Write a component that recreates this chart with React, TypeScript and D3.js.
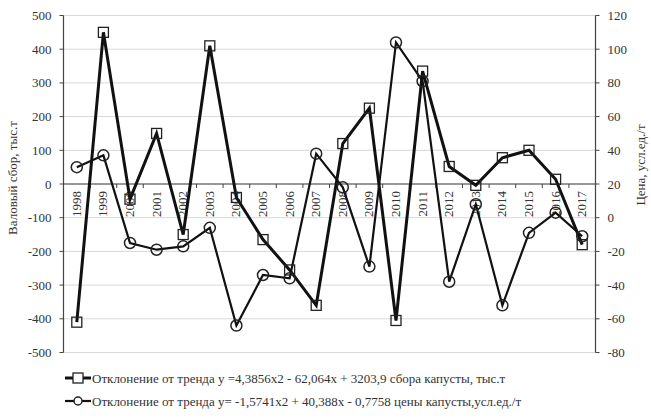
import React from "react";
import * as d3 from "d3";

const years = ["1998", "1999", "2000", "2001", "2002", "2003", "2004", "2005", "2006", "2007",
  "2008", "2009", "2010", "2011", "2012", "2013", "2014", "2015", "2016", "2017"];
// Deviation from trend of cabbage harvest, thousand t (left axis)
const harvestDev = [-410, 450, -45, 150, -150, 410, -40, -165, -255, -360,
  120, 225, -405, 335, 52, -4, 78, 100, 14, -180];
// Deviation from trend of cabbage price, conventional units/t (right axis)
const priceDev = [30, 37, -15, -19, -17, -6, -64, -34, -36, 38,
  18, -29, 104, 81, -38, 8, -52, -9, 3, -11];
const leftTicks = [500, 400, 300, 200, 100, 0, -100, -200, -300, -400, -500];
const rightTicks = [120, 100, 80, 60, 40, 20, 0, -20, -40, -60, -80];
const legendLabels = [
  "Отклонение от тренда у =4,3856х2 - 62,064х + 3203,9 сбора капусты, тыс.т",
  "Отклонение от тренда у= -1,5741х2 + 40,388х - 0,7758  цены капусты,усл.ед./т",
];

const W = 651, H = 419;
const L = 63.5, R = 595.5, T = 15.5, B = 352.5;
const FONT = "Liberation Serif";

export default function App() {
  const x = d3.scaleBand<string>().domain(years).range([L, R]);
  const yL = d3.scaleLinear().domain([-500, 500]).range([B, T]);
  const yR = d3.scaleLinear().domain([-80, 120]).range([B, T]);
  const cx = (d: string) => (x(d) as number) + x.bandwidth() / 2;

  const lineL = d3.line<number>().x((_, i) => cx(years[i])).y((v) => yL(v));
  const lineR = d3.line<number>().x((_, i) => cx(years[i])).y((v) => yR(v));
  const zeroY = yL(0);
  const sq = 10;
  const txt = { fontFamily: FONT, fill: "#333" };

  return (
    <svg width={W} height={H} style={{ position: "absolute", left: 0, top: 0, background: "#fff" }}>
      {/* gridlines */}
      {leftTicks.map((t) => (
        <line key={"g" + t} x1={L} x2={R} y1={yL(t)} y2={yL(t)} stroke="#d8d8d8" strokeWidth={1} />
      ))}
      {/* left axis */}
      <line x1={L} x2={L} y1={T} y2={B} stroke="#444" strokeWidth={1.2} />
      {leftTicks.map((t) => (
        <g key={"l" + t}>
          <line x1={L - 4} x2={L} y1={yL(t)} y2={yL(t)} stroke="#444" />
          <text x={L - 12} y={yL(t)} dy="0.35em" textAnchor="end" fontSize={13} style={txt}>{t}</text>
        </g>
      ))}
      {/* right axis */}
      <line x1={R} x2={R} y1={T} y2={B} stroke="#444" strokeWidth={1.2} />
      {rightTicks.map((t) => (
        <g key={"r" + t}>
          <line x1={R} x2={R + 4} y1={yR(t)} y2={yR(t)} stroke="#444" />
          <text x={R + 12} y={yR(t)} dy="0.35em" textAnchor="start" fontSize={13} style={txt}>{t}</text>
        </g>
      ))}
      {/* category axis at zero */}
      <line x1={L} x2={R} y1={zeroY} y2={zeroY} stroke="#444" strokeWidth={1.2} />
      {years.map((y, i) => (
        <line key={"xt" + y} x1={(x(y) as number) + (i === 0 ? x.bandwidth() : 0)}
          x2={(x(y) as number) + (i === 0 ? x.bandwidth() : 0)} y1={zeroY} y2={zeroY + 4} stroke="#444" />
      ))}
      {years.map((y) => (
        <text key={"xl" + y} transform={`translate(${cx(y) + 4},${zeroY + 7}) rotate(-90)`}
          textAnchor="end" fontSize={13} style={txt}>{y}</text>
      ))}
      {/* axis titles */}
      <text transform={`translate(17,178) rotate(-90)`} textAnchor="middle" fontSize={13} style={txt}>
        Валовый сбор, тыс.т
      </text>
      <text transform={`translate(645,165) rotate(-90)`} textAnchor="middle" fontSize={13} style={txt}>
        Цена, усл.ед./т
      </text>
      {/* series */}
      <path d={lineL(harvestDev) as string} fill="none" stroke="#111" strokeWidth={3} strokeLinejoin="miter" />
      <path d={lineR(priceDev) as string} fill="none" stroke="#111" strokeWidth={2.2} />
      {harvestDev.map((v, i) => (
        <rect key={"s" + i} x={cx(years[i]) - sq / 2} y={yL(v) - sq / 2} width={sq} height={sq}
          fill="none" stroke="#222" strokeWidth={1.3} />
      ))}
      {priceDev.map((v, i) => (
        <circle key={"c" + i} cx={cx(years[i])} cy={yR(v)} r={5.5} fill="none" stroke="#222" strokeWidth={1.5} />
      ))}
      {/* legend */}
      <g>
        <line x1={65} x2={91} y1={378} y2={378} stroke="#111" strokeWidth={3} />
        <rect x={73} y={373} width={10} height={10} fill="#fff" stroke="#222" strokeWidth={1.3} />
        <text x={92} y={378} dy="0.35em" fontSize={13} style={txt}>{legendLabels[0]}</text>
        <line x1={65} x2={91} y1={401} y2={401} stroke="#111" strokeWidth={2.2} />
        <circle cx={78} cy={401} r={4} fill="#fff" stroke="#222" strokeWidth={1.5} />
        <text x={92} y={401} dy="0.35em" fontSize={13} style={txt}>{legendLabels[1]}</text>
      </g>
    </svg>
  );
}
